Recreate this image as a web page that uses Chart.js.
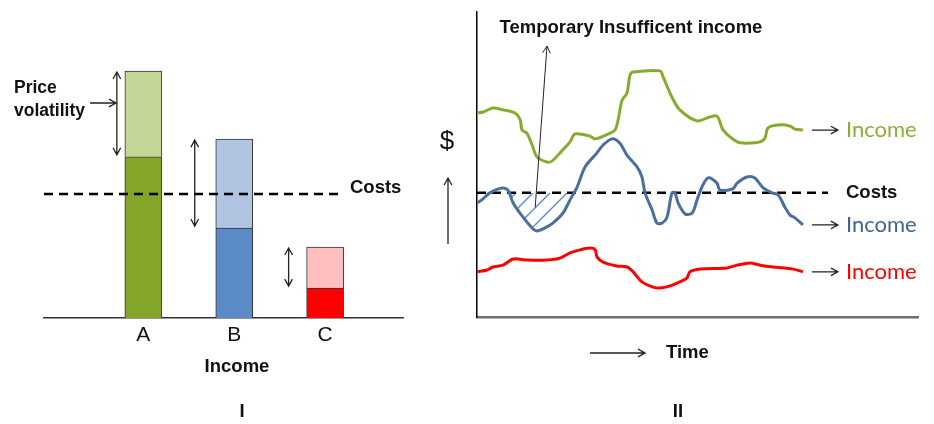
<!DOCTYPE html>
<html lang="en">
<head>
<meta charset="UTF-8">
<title>Income volatility and costs</title>
<script src="https://cdn.jsdelivr.net/npm/chart.js"></script>
<style>
    body {
        margin: 0;
        background: #fff;
        width: 934px;
        height: 424px;
        position: relative;
        overflow: hidden;
    }
    #left { position: absolute; left: 0; top: 0; }
    #right { position: absolute; left: 420px; top: 0; }
</style>
</head>
<body>
<canvas id="left" width="420" height="424"></canvas>
<canvas id="right" width="514" height="424"></canvas>
<script>
// ---- panel I : income of three producers ----
const farms = ['A', 'B', 'C'];
const baseIncome = [62, 34.6, 11.5];
const volatility = [33, 34.2, 15.8];
const costLevel = 47.7;

// ---- panel II : income over time ----
const greenTime = [0, 1.4, 3.6, 5.9, 8.6, 9.8, 10.2, 11.3, 12.5, 13.6, 15.9, 17.0, 18.8, 21.1, 22.2, 25.6, 26.8, 30.2, 31.3, 32.0, 32.9, 34.0, 34.7, 35.4, 41.5, 42.2, 44.2, 46.0, 49.9, 52.8, 54.4, 55.1, 55.8, 59.0, 61.2, 64.2, 65.3, 66.0, 68.7, 71.0, 72.1, 73.9];
const greenIncome = [66.9, 67.2, 68.5, 67.9, 66.9, 64.6, 61.3, 60.3, 56.4, 52.5, 50.8, 51.1, 53.8, 57.4, 60.0, 59.3, 58.4, 60.3, 61.3, 64.6, 71.1, 73.4, 79.3, 80.3, 80.7, 78.7, 72.1, 67.9, 64.3, 65.6, 65.9, 63.9, 61.3, 57.4, 57.0, 57.4, 58.7, 62.0, 63.0, 62.6, 61.6, 61.3];
const blueTime = [0, 1.1, 2.9, 5.7, 7.0, 8.2, 10.4, 12.5, 13.6, 15.4, 17.2, 19.5, 21.1, 22.7, 24.5, 27.2, 28.6, 30.6, 32.4, 34.0, 36.3, 37.4, 38.1, 39.7, 40.8, 42.0, 43.1, 44.2, 44.9, 45.6, 47.2, 48.8, 49.9, 51.0, 52.4, 54.4, 55.1, 58.0, 59.0, 61.2, 63.0, 64.9, 66.9, 68.3, 69.8, 71.0, 72.1, 73.9];
const blueIncome = [37.4, 38.4, 40.7, 42.3, 41.6, 37.4, 32.8, 29.2, 28.2, 29.2, 30.8, 34.1, 38.4, 42.6, 49.2, 53.8, 56.4, 58.4, 57.0, 53.1, 49.2, 45.9, 40.7, 35.1, 30.8, 30.8, 32.8, 40.7, 40.7, 37.4, 33.8, 34.1, 38.4, 42.6, 45.6, 43.9, 41.6, 42.0, 43.9, 45.9, 45.6, 42.3, 40.7, 40.0, 36.1, 33.4, 32.5, 30.2];
const redTime = [0, 2.3, 3.6, 5.9, 8.2, 11.3, 15.9, 18.8, 21.1, 23.4, 25.6, 26.8, 27.2, 28.6, 31.7, 34.0, 35.4, 37.4, 39.9, 41.5, 43.8, 46.0, 47.6, 48.3, 50.6, 56.7, 59.0, 61.9, 64.2, 67.1, 71.7, 73.9];
const redIncome = [14.8, 15.4, 16.4, 17.0, 19.0, 18.7, 18.7, 19.3, 21.0, 22.0, 22.6, 22.0, 19.7, 18.0, 16.7, 16.4, 14.8, 11.5, 9.8, 9.5, 10.2, 11.5, 12.8, 14.8, 15.7, 16.1, 17.0, 17.7, 17.0, 16.4, 15.7, 14.8];
const costTime = [0, 79.6];
const costRight = 40.7;
const shortfallFrom = 7.0, shortfallTo = 22.7;   // the hatched dip

const TEXT = 'Liberation Sans, Arial, sans-serif';
const BOLD = 'bold 18.5px ' + TEXT;

function pts(xs, ys) {
    return xs.map((x, i) => ({x: x, y: ys[i]}));
}

function arrow(ctx, x1, y1, x2, y2, both) {
    const h = 8, w = 0.5;
    const a = Math.atan2(y2 - y1, x2 - x1);
    ctx.beginPath();
    ctx.moveTo(x1, y1);
    ctx.lineTo(x2, y2);
    ctx.moveTo(x2 - h * Math.cos(a - w), y2 - h * Math.sin(a - w));
    ctx.lineTo(x2, y2);
    ctx.lineTo(x2 - h * Math.cos(a + w), y2 - h * Math.sin(a + w));
    if (both) {
        ctx.moveTo(x1 + h * Math.cos(a - w), y1 + h * Math.sin(a - w));
        ctx.lineTo(x1, y1);
        ctx.lineTo(x1 + h * Math.cos(a + w), y1 + h * Math.sin(a + w));
    }
    ctx.stroke();
}

function text(ctx, str, x, y, font, color, align) {
    ctx.font = font;
    ctx.fillStyle = color || '#111';
    ctx.textAlign = align || 'left';
    ctx.textBaseline = 'middle';
    ctx.fillText(str, x, y);
}

// ---------------- panel I ----------------
const xPos = farms.map((f, i) => i + 1);
const darkCols = ['#83a628', '#5a8bc6', '#ff0000'];
const lightCols = ['#c3d597', '#b0c4e1', '#ffbfbf'];
const arrowGap = [8, 21, 18];

const leftNotes = {
    id: 'leftNotes',
    afterDatasetsDraw(chart) {
        const ctx = chart.ctx;
        const xs = chart.scales.x, ys = chart.scales.y;
        ctx.save();
        ctx.strokeStyle = '#222';
        ctx.lineWidth = 1.3;
        farms.forEach((f, i) => {
            const x = xs.getPixelForValue(xPos[i]) - 18.5 - arrowGap[i];
            const top = ys.getPixelForValue(baseIncome[i] + volatility[i]) + 1;
            const bot = ys.getPixelForValue(baseIncome[i]) - 2;
            arrow(ctx, x, bot, x, top, true);
        });
        arrow(ctx, 90, 103, 116, 103, false);
        const label = 'bold 17.5px ' + TEXT;
        text(ctx, 'Price', 14, 88, label);
        text(ctx, 'volatility', 14, 111, label);
        text(ctx, 'Costs', 350, ys.getPixelForValue(costLevel) - 6, BOLD);
        text(ctx, 'Income', 237, 367, BOLD, '#111', 'center');
        text(ctx, 'I', 242, 412, BOLD, '#111', 'center');
        ctx.restore();
    }
};

new Chart(document.getElementById('left'), {
    data: {
        datasets: [
            {
                type: 'bar',
                label: 'Income',
                data: pts(xPos, baseIncome),
                backgroundColor: darkCols,
                borderColor: '#333',
                borderWidth: 1,
                barThickness: 37,
                yAxisID: 'y',
                order: 1
            },
            {
                type: 'bar',
                label: 'Price volatility',
                data: pts(xPos, volatility),
                backgroundColor: lightCols,
                borderColor: '#333',
                borderWidth: 1,
                barThickness: 37,
                yAxisID: 'y',
                order: 1
            },
            {
                type: 'line',
                label: 'Costs',
                data: [{x: -0.0934, y: costLevel}, {x: 3.19, y: costLevel}],
                borderColor: '#000',
                borderWidth: 2.5,
                borderDash: [9, 6],
                pointRadius: 0,
                yAxisID: 'yc',
                order: -1
            }
        ]
    },
    options: {
        responsive: false,
        animation: false,
        layout: {padding: {left: 44, right: 17, top: 58, bottom: 0}},
        plugins: {legend: {display: false}, tooltip: {enabled: false}},
        scales: {
            x: {
                type: 'linear',
                min: -0.0934,
                max: 3.857,
                offset: false,
                stacked: true,
                grid: {display: false, drawTicks: false},
                border: {display: true, color: '#333', width: 1.5},
                afterBuildTicks: ax => { ax.ticks = xPos.map(v => ({value: v})); },
                ticks: {
                    callback: v => farms[v - 1],
                    font: {family: TEXT, size: 21},
                    color: '#111',
                    padding: 5
                },
                afterFit: s => { s.height = 106; }
            },
            y: {display: false, stacked: true, min: 0, max: 100},
            yc: {display: false, min: 0, max: 100}
        }
    },
    plugins: [leftNotes]
});

// ---------------- panel II ----------------
const lineGreen = '#86ab2e', lineBlue = '#4a6f9e', lineRed = '#ff0000';

function hatch() {
    const c = document.createElement('canvas');
    c.width = 17; c.height = 17;
    const g = c.getContext('2d');
    g.strokeStyle = '#5a8ccc';
    g.lineWidth = 1.4;
    g.beginPath();
    g.moveTo(-1, 18); g.lineTo(18, -1);
    g.moveTo(-9, 9); g.lineTo(9, -9);
    g.moveTo(8, 26); g.lineTo(26, 8);
    g.stroke();
    return g.createPattern(c, 'repeat');
}

const dipIdx = blueTime.map((t, i) => i).filter(i => blueTime[i] >= shortfallFrom && blueTime[i] <= shortfallTo);

const incomeSeries = [
    {t: greenTime, v: greenIncome, line: lineGreen, label: '#8aae37'},
    {t: blueTime, v: blueIncome, line: lineBlue, label: '#416592'},
    {t: redTime, v: redIncome, line: lineRed, label: '#ff0000'}
];

const rightNotes = {
    id: 'rightNotes',
    afterDatasetsDraw(chart) {
        const ctx = chart.ctx;
        const xs = chart.scales.x, ys = chart.scales.y;
        ctx.save();
        ctx.strokeStyle = '#222';
        ctx.lineWidth = 1.3;

        text(ctx, '$', 27, 142, '26px ' + TEXT, '#111', 'center');
        arrow(ctx, 28, 244, 28, 178, false);

        incomeSeries.forEach(s => {
            const n = s.t.length - 1;
            const px = xs.getPixelForValue(s.t[n]);
            const py = ys.getPixelForValue(s.v[n]);
            arrow(ctx, px + 9, py, px + 35, py, false);
            text(ctx, 'Income', px + 43, py, '22px Lato, sans-serif', s.label);
        });
        text(ctx, 'Costs', 426, ys.getPixelForValue(costRight), BOLD);

        const sx = xs.getPixelForValue(13.2), sy = ys.getPixelForValue(36);
        ctx.lineWidth = 1;
        arrow(ctx, sx, sy, 127, 46, false);
        text(ctx, 'Temporary Insufficent income', 211, 28, BOLD, '#111', 'center');

        ctx.lineWidth = 1.3;
        arrow(ctx, 170, 353, 225, 353, false);
        text(ctx, 'Time', 246, 353, BOLD);
        text(ctx, 'II', 258, 412, BOLD, '#111', 'center');
        ctx.restore();
    }
};

new Chart(document.getElementById('right'), {
    type: 'line',
    data: {
        datasets: [
            {
                label: 'Shortfall',
                data: pts(dipIdx.map(i => blueTime[i]), dipIdx.map(i => blueIncome[i])),
                borderColor: 'rgba(0,0,0,0)',
                borderWidth: 0,
                pointRadius: 0,
                tension: 0.3,
                fill: {target: {value: costRight}, above: 'rgba(0,0,0,0)', below: hatch()},
                order: 5
            },
            {
                label: 'Costs',
                data: pts(costTime, costTime.map(() => costRight)),
                borderColor: '#000',
                borderWidth: 2.5,
                borderDash: [9, 6],
                pointRadius: 0,
                order: 2
            },
            ...incomeSeries.map((s, k) => ({
                label: 'Income ' + (k + 1),
                data: pts(s.t, s.v),
                borderColor: s.line,
                borderWidth: 3,
                pointRadius: 0,
                tension: 0.3,
                fill: false,
                order: 1
            }))
        ]
    },
    options: {
        responsive: false,
        animation: false,
        layout: {padding: {left: 57, right: 16, top: 12, bottom: 0}},
        plugins: {legend: {display: false}, tooltip: {enabled: false}},
        scales: {
            x: {
                type: 'linear',
                min: 0,
                max: 100,
                grid: {display: false, drawTicks: false},
                ticks: {display: false},
                border: {display: true, color: '#6f6f6f', width: 2.5},
                afterFit: s => { s.height = 107; }
            },
            y: {
                type: 'linear',
                min: 0,
                max: 100,
                grid: {display: false, drawTicks: false},
                ticks: {display: false},
                border: {display: true, color: '#000', width: 1.5},
                afterFit: s => { s.width = 0; }
            }
        }
    },
    plugins: [rightNotes]
});
</script>
</body>
</html>
